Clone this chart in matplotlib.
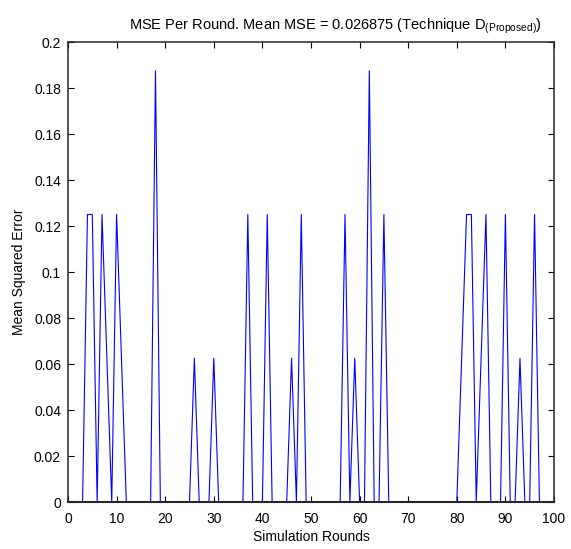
import matplotlib
matplotlib.use("Agg")
import matplotlib.pyplot as plt
import numpy as np

plt.rcParams['font.family'] = ['Liberation Sans', 'DejaVu Sans']
plt.rcParams['mathtext.fontset'] = 'custom'
plt.rcParams['mathtext.rm'] = 'Liberation Sans'

rounds = list(range(1, 101))
# MSE in units of 1/16 per round
nonzero = {4: 2, 5: 2, 7: 2, 8: 1, 10: 2, 11: 1, 18: 3, 26: 1, 30: 1,
           37: 2, 41: 2, 46: 1, 48: 2, 57: 2, 59: 1, 62: 3, 65: 2,
           81: 1, 82: 2, 83: 2, 85: 1, 86: 2, 90: 2, 93: 1, 96: 2}
mse = [nonzero.get(r, 0) / 16 for r in rounds]
mean_mse = np.mean(mse)

xticks = list(range(0, 101, 10))
yticks = [0, 0.02, 0.04, 0.06, 0.08, 0.1, 0.12, 0.14, 0.16, 0.18, 0.2]
ytick_labels = ['0', '0.02', '0.04', '0.06', '0.08', '0.1', '0.12', '0.14', '0.16', '0.18', '0.2']

fig = plt.figure(figsize=(5.71, 5.49), dpi=100)
ax = fig.add_axes([68/571, 1 - 502/549, (554-68)/571, (502-42)/549])
ax.plot(rounds, mse, color='#0000ff', lw=0.8)
ax.set_xlim(0, 100)
ax.set_ylim(0, 0.2)
ax.set_xticks(xticks)
ax.set_yticks(yticks)
ax.set_yticklabels(ytick_labels)
ax.tick_params(direction='in', top=True, right=True, length=4, width=0.8,
               labelsize=10, colors='black')
ax.tick_params(axis='x', pad=7)
ax.tick_params(axis='y', pad=5)
for s in ax.spines.values():
    s.set_linewidth(1.1)
    s.set_color('#262626')
    s.set_zorder(5)
ax.spines['bottom'].set_linewidth(1.5)
ax.set_xlabel('Simulation Rounds', fontsize=10, labelpad=3)
ax.set_ylabel('Mean Squared Error', fontsize=10, labelpad=6)
ax.set_title('MSE Per Round. Mean MSE = %g (Technique D$_{\\mathregular{(Proposed)}}$)' % mean_mse,
             fontsize=10.5, pad=9, x=0.55)
fig.savefig('out.png', dpi=100)
